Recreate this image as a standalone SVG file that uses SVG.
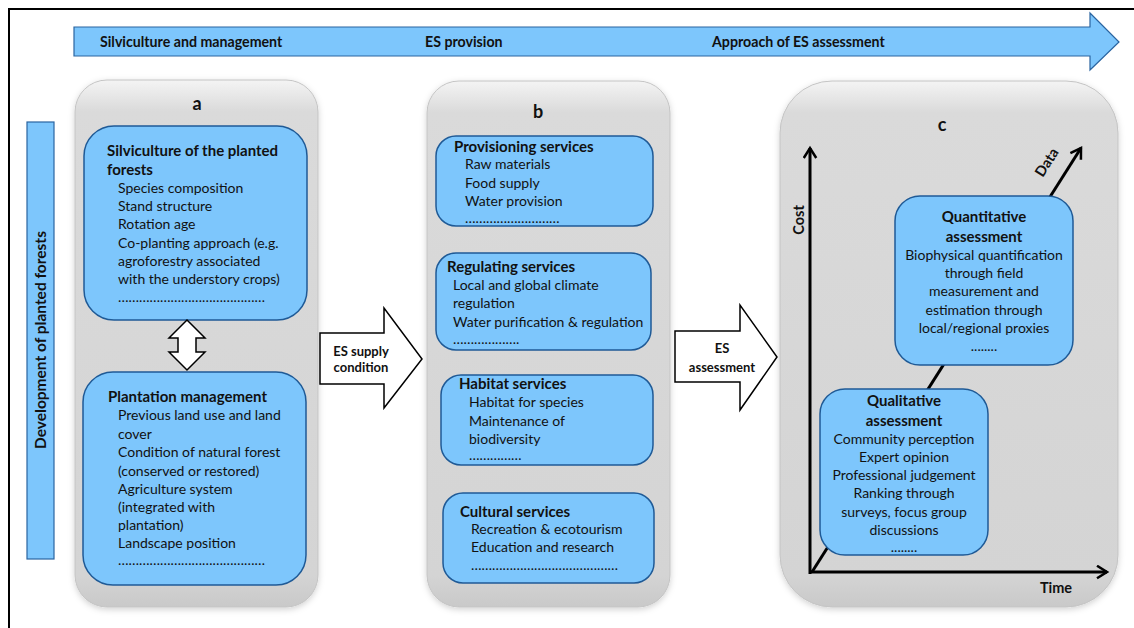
<svg xmlns="http://www.w3.org/2000/svg" width="1134" height="628" viewBox="0 0 1134 628">
<defs>
<style>
.t{font-family:Lato,"Liberation Sans",sans-serif;font-size:14px;fill:#111}
.b{font-family:Lato,"Liberation Sans",sans-serif;font-size:15px;font-weight:bold;fill:#111}
.h{font-family:Lato,"Liberation Sans",sans-serif;font-size:18px;font-weight:bold;fill:#111}
.s{font-family:Lato,"Liberation Sans",sans-serif;font-size:14.2px;font-weight:bold;fill:#111}
.a{font-family:Lato,"Liberation Sans",sans-serif;font-size:13px;font-weight:bold;fill:#111}
.v{font-family:Lato,"Liberation Sans",sans-serif;font-size:15.5px;font-weight:bold;fill:#111}
.x{font-family:Lato,"Liberation Sans",sans-serif;font-size:14.5px;font-weight:bold;fill:#111}
.c{text-anchor:middle}
.panel{fill:url(#gray);stroke:#c4c4c4;stroke-width:1;filter:url(#sh)}
.box{fill:#7dc6fc;stroke:#1f5a96;stroke-width:1.5}
.wa{fill:#fff;stroke:#000;stroke-width:1.5}
.ax{stroke:#000;stroke-width:3;fill:none}
</style>
<linearGradient id="gray" x1="0" y1="0" x2="0" y2="1">
<stop offset="0" stop-color="#f4f4f4"/>
<stop offset="0.06" stop-color="#dadada"/>
<stop offset="0.94" stop-color="#d4d4d4"/>
<stop offset="1" stop-color="#c9c9c9"/>
</linearGradient>
<filter id="sh" x="-10%" y="-5%" width="120%" height="110%">
<feDropShadow dx="0" dy="2" stdDeviation="3" flood-color="#000" flood-opacity="0.18"/>
</filter>
<marker id="ah" viewBox="0 0 12 12" refX="9" refY="6" markerWidth="5" markerHeight="5" orient="auto" markerUnits="strokeWidth">
<path d="M1,1 L9,6 L1,11" fill="none" stroke="#000" stroke-width="2"/>
</marker>
</defs>
<rect width="1134" height="628" fill="#fff"/>
<g id="frame"><path d="M9,628 L9,9 L1134,9" fill="none" stroke="#000" stroke-width="2"/></g>

<g id="top-arrow">
<path d="M74,27 L1090,27 L1090,13 L1119,42 L1090,70 L1090,56 L74,56 Z" fill="#7dc6fc" stroke="#2a64a0" stroke-width="1.2"/>
<text class="s" x="100" y="47">Silviculture and management</text>
<text class="s" x="425" y="47">ES provision</text>
<text class="s" x="712" y="47">Approach of ES assessment</text>
</g>

<g id="side-bar">
<rect x="27" y="122" width="27" height="437" fill="#7dc6fc" stroke="#2a64a0" stroke-width="1.2"/>
<text class="v c" transform="translate(46,340) rotate(-90)">Development of planted forests</text>
</g>

<g id="panel-a">
<rect class="panel" x="75" y="80" width="243" height="527" rx="32"/>
<text class="h c" x="197" y="110">a</text>
</g>
<g id="silviculture">
<rect class="box" x="84" y="126" width="223" height="194" rx="30"/>
<text class="b" x="107" y="156">Silviculture of the planted</text>
<text class="b" x="107" y="175">forests</text>
<text class="t" x="118" y="193">Species composition</text>
<text class="t" x="118" y="211">Stand structure</text>
<text class="t" x="118" y="229">Rotation age</text>
<text class="t" x="118" y="248">Co-planting approach (e.g.</text>
<text class="t" x="118" y="266">agroforestry associated</text>
<text class="t" x="118" y="284">with the understory crops)</text>
<text class="t" x="118" y="302">……………………………………</text>
</g>
<g id="plantation">
<rect class="box" x="83" y="372" width="223" height="213" rx="30"/>
<text class="b" x="108" y="402">Plantation management</text>
<text class="t" x="118" y="420">Previous land use and land</text>
<text class="t" x="118" y="439">cover</text>
<text class="t" x="118" y="457">Condition of natural forest</text>
<text class="t" x="118" y="476">(conserved or restored)</text>
<text class="t" x="118" y="494">Agriculture system</text>
<text class="t" x="118" y="512">(integrated with</text>
<text class="t" x="118" y="530">plantation)</text>
<text class="t" x="118" y="548">Landscape position</text>
<text class="t" x="118" y="565">……………………………………</text>
</g>

<g id="panel-b">
<rect class="panel" x="427" y="81" width="243" height="526" rx="32"/>
<text class="h c" x="538" y="118">b</text>
</g>
<g id="provisioning">
<rect class="box" x="436" y="136" width="217" height="90" rx="20"/>
<text class="b" x="454" y="152">Provisioning services</text>
<text class="t" x="465" y="169">Raw materials</text>
<text class="t" x="465" y="188">Food supply</text>
<text class="t" x="465" y="206">Water provision</text>
<text class="t" x="465" y="223">………………………</text>
</g>
<g id="regulating">
<rect class="box" x="436" y="253" width="215" height="97" rx="20"/>
<text class="b" x="447" y="272">Regulating services</text>
<text class="t" x="453" y="290">Local and global climate</text>
<text class="t" x="453" y="308">regulation</text>
<text class="t" x="453" y="327">Water purification &amp; regulation</text>
<text class="t" x="453" y="344">……………….</text>
</g>
<g id="habitat">
<rect class="box" x="441" y="375" width="212" height="90" rx="20"/>
<text class="b" x="459" y="389">Habitat services</text>
<text class="t" x="469" y="407">Habitat for species</text>
<text class="t" x="469" y="426">Maintenance of</text>
<text class="t" x="469" y="444">biodiversity</text>
<text class="t" x="469" y="460">……………</text>
</g>
<g id="cultural">
<rect class="box" x="443" y="493" width="211" height="90" rx="20"/>
<text class="b" x="460" y="517">Cultural services</text>
<text class="t" x="471" y="534">Recreation &amp; ecotourism</text>
<text class="t" x="471" y="552">Education and research</text>
<text class="t" x="471" y="570">……………………………………</text>
</g>

<g id="panel-c">
<rect class="panel" x="780" y="81" width="338" height="526" rx="52"/>
<text class="h c" x="942" y="131">c</text>
</g>

<g id="connectors">
<path class="wa" d="M187,320 L205,338 L196,338 L196,352 L205,352 L187,370 L169,352 L178,352 L178,338 L169,338 Z"/>
<path class="wa" d="M320,333 L384,333 L384,308 L422,359 L384,408 L384,384 L320,384 Z"/>
<text class="a c" x="361" y="356">ES supply</text>
<text class="a c" x="361" y="372">condition</text>
<path class="wa" d="M675,331 L740,331 L740,305 L777,357 L740,410 L740,382 L675,382 Z"/>
<text class="a c" x="722" y="353">ES</text>
<text class="a c" x="722" y="372">assessment</text>
<line class="ax" x1="810" y1="574" x2="810" y2="148" marker-end="url(#ah)"/>
<line class="ax" x1="809" y1="572" x2="1107" y2="572" marker-end="url(#ah)"/>
<line class="ax" x1="812" y1="572" x2="1081" y2="148" marker-end="url(#ah)"/>
<text class="x c" transform="translate(804,220) rotate(-90)">Cost</text>
<text class="x c" x="1056" y="593">Time</text>
<text class="x c" transform="translate(1051,165) rotate(-57.6)">Data</text>
</g>

<g id="quantitative">
<rect class="box" x="895" y="196" width="178" height="169" rx="25"/>
<text class="b c" x="984" y="222">Quantitative</text>
<text class="b c" x="984" y="242">assessment</text>
<text class="t c" x="984" y="260">Biophysical quantification</text>
<text class="t c" x="984" y="278">through field</text>
<text class="t c" x="984" y="296">measurement and</text>
<text class="t c" x="984" y="315">estimation through</text>
<text class="t c" x="984" y="333">local/regional proxies</text>
<text class="t c" x="984" y="351">........</text>
</g>
<g id="qualitative">
<rect class="box" x="820" y="389" width="168" height="166" rx="25"/>
<text class="b c" x="904" y="406">Qualitative</text>
<text class="b c" x="904" y="426">assessment</text>
<text class="t c" x="904" y="444">Community perception</text>
<text class="t c" x="904" y="462">Expert opinion</text>
<text class="t c" x="904" y="480">Professional judgement</text>
<text class="t c" x="904" y="498">Ranking through</text>
<text class="t c" x="904" y="517">surveys, focus group</text>
<text class="t c" x="904" y="535">discussions</text>
<text class="t c" x="904" y="552">........</text>
</g>
</svg>
